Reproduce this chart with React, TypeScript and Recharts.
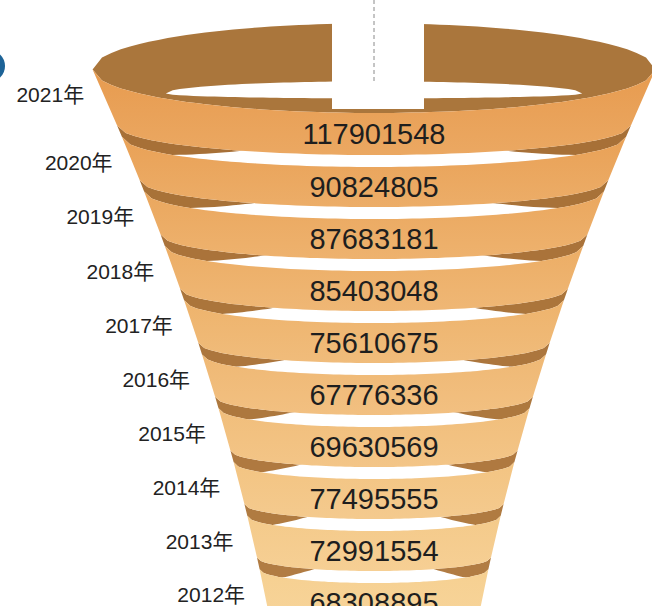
import React from 'react';
import { BarChart, Bar, XAxis, YAxis } from 'recharts';

const YEARS = ['2012', '2013', '2014', '2015', '2016', '2017', '2018', '2019', '2020', '2021'];
const VALUES = [68308895, 72991554, 77495555, 69630569, 67776336, 75610675, 85403048, 87683181, 90824805, 117901548];

const data = YEARS.map((year, i) => ({ year, value: VALUES[i] }));

// funnel geometry (pixels)
const CX = 374;
const hwAt = (y: number) => {
  const t = y - 68;
  return 282 - 0.4506 * t + 0.000232 * t * t;
};

type Edge = { tip: number; hw: number; sag: number };

const solveEdge = (c: number, k: number): Edge => {
  let tip = c - 30;
  for (let i = 0; i < 5; i++) tip = c - k * hwAt(tip);
  return { tip, hw: hwAt(tip), sag: c - tip };
};

const ringGeom = (bandTop: number, bandH: number, first: boolean) => {
  const c1 = bandTop + (first ? 4 : 6);
  const c2 = bandTop + bandH - 6;
  return { c1, c2, top: solveEdge(c1, first ? 0.155 : 0.12), bot: solveEdge(c2, 0.115) };
};

const arcY = (x: number, e: Edge, dir = 1) => {
  const u = (x - CX) / e.hw;
  return e.tip + dir * e.sag * Math.sqrt(Math.max(0, 1 - u * u));
};

const arcPts = (e: Edge, from: number, to: number, n = 60) => {
  const out: string[] = [];
  for (let j = 0; j <= n; j++) {
    const x = from + ((to - from) * j) / n;
    out.push(`${x.toFixed(1)},${arcY(x, e).toFixed(1)}`);
  }
  return out;
};

const hex = (c: string) => [1, 3, 5].map((i) => parseInt(c.slice(i, i + 2), 16));
const mix = (a: string, b: string, t: number) => {
  const A = hex(a);
  const B = hex(b);
  return `rgb(${A.map((v, i) => Math.round(v + (B[i] - v) * t)).join(',')})`;
};

const FONT = "'Liberation Sans', Arial, 'Noto Sans CJK SC', sans-serif";

function Ring(props: any) {
  const { y, height, payload } = props;
  const idx = YEARS.indexOf(payload.year);
  const r = YEARS.length - 1 - idx; // 0 = top ring
  const first = r === 0;
  const g = ringGeom(y, height, first);
  const t = r / (YEARS.length - 1);
  const face = mix('#E79B4F', '#F6D091', t);
  const faceLow = mix('#EBA862', '#F7D49A', t);
  const dark = mix('#A66F35', '#B17C43', t);

  const facePts = [
    ...arcPts(g.top, CX - g.top.hw, CX + g.top.hw),
    ...arcPts(g.bot, CX + g.bot.hw, CX - g.bot.hw),
  ];

  let gap: React.ReactNode = null;
  if (!first) {
    const prev = ringGeom(y - height, height, r - 1 === 0).bot;
    const gapPts = [
      ...arcPts(prev, CX - prev.hw, CX + prev.hw),
      ...arcPts(g.top, CX + g.top.hw, CX - g.top.hw),
    ];
    const u0 = 0.5;
    const u1 = 0.8;
    const topL: string[] = [];
    const botL: string[] = [];
    const n = 60;
    for (let j = 0; j <= n; j++) {
      const x = CX - u1 * g.top.hw + (2 * u1 * g.top.hw * j) / n;
      const u = Math.abs(x - CX) / g.top.hw;
      const k = Math.min(1, Math.max(0, (u1 - u) / (u1 - u0)));
      const yb = arcY(x, g.top);
      const ya = arcY(x, prev);
      topL.push(`${x.toFixed(1)},${(yb - (yb - ya + 1) * k).toFixed(1)}`);
      botL.push(`${x.toFixed(1)},${(yb + 0.5).toFixed(1)}`);
    }
    gap = (
      <g>
        <polygon points={gapPts.join(' ')} fill={dark} />
        <polygon points={[...topL, ...botL.reverse()].join(' ')} fill="#fff" />
      </g>
    );
  }

  let rim: React.ReactNode = null;
  if (first) {
    const T = g.top.tip;
    const up: Edge = { tip: T, hw: g.top.hw, sag: 46 };
    const rimPts: string[] = [];
    for (let j = 0; j <= 60; j++) {
      const x = CX - up.hw + (2 * up.hw * j) / 60;
      rimPts.push(`${x.toFixed(1)},${arcY(x, up, -1).toFixed(1)}`);
    }
    rimPts.push(...arcPts(g.top, CX + g.top.hw, CX - g.top.hw));
    const lw = 0.74 * g.top.hw;
    const lt: string[] = [];
    const lb: string[] = [];
    for (let j = 0; j <= 60; j++) {
      const x = CX - lw + (2 * lw * j) / 60;
      const u = (x - CX) / lw;
      const e = Math.sqrt(Math.max(0, 1 - u * u));
      lt.push(`${x.toFixed(1)},${(T + 24 - 12 * e).toFixed(1)}`);
      lb.push(`${x.toFixed(1)},${(T + 24 + 5 * e).toFixed(1)}`);
    }
    rim = (
      <g>
        <circle cx={-11} cy={66} r={16} fill="#1D6397" />
        <polygon points={rimPts.join(' ')} fill="#AA763C" />
        <polygon points={[...lt, ...lb.reverse()].join(' ')} fill="#fff" />
        <rect x={332} y={0} width={92} height={g.c1 - 4} fill="#fff" />
        <line x1={374} y1={0} x2={374} y2={83} stroke="#8a8a8a" strokeWidth={1} strokeDasharray="4 3" />
      </g>
    );
  }

  const ly = g.top.tip + 26;
  const gid = `face-${payload.year}`;
  return (
    <g>
      <defs>
        <linearGradient id={gid} x1="0" y1="0" x2="0" y2="1">
          <stop offset="0" stopColor={face} />
          <stop offset="1" stopColor={faceLow} />
        </linearGradient>
      </defs>
      {gap}
      {rim}
      <polygon points={facePts.join(' ')} fill={`url(#${gid})`} />
      <text x={CX} y={(g.c1 + g.c2) / 2 + 10} textAnchor="middle" fontSize={29} fill="#1e1e1e" fontFamily={FONT}>
        {VALUES[idx]}
      </text>
      <text x={CX - hwAt(ly) - 20} y={ly + 7} textAnchor="end" fontSize={21} fill="#222" fontFamily={FONT}>
        {`${payload.year}年`}
      </text>
    </g>
  );
}

export default function App() {
  return (
    <div style={{ width: 652, height: 606, overflow: 'hidden', background: '#fff' }}>
      <style>{'body{margin:0;overflow:hidden}'}</style>
      <BarChart
        width={652}
        height={640}
        data={data}
        layout="vertical"
        margin={{ top: 109, right: 0, bottom: 11, left: 0 }}
        barCategoryGap={0}
      >
        <XAxis type="number" hide />
        <YAxis type="category" dataKey="year" hide reversed width={0} />
        <Bar dataKey="value" isAnimationActive={false} shape={(p: any) => <Ring {...p} />} />
      </BarChart>
    </div>
  );
}
